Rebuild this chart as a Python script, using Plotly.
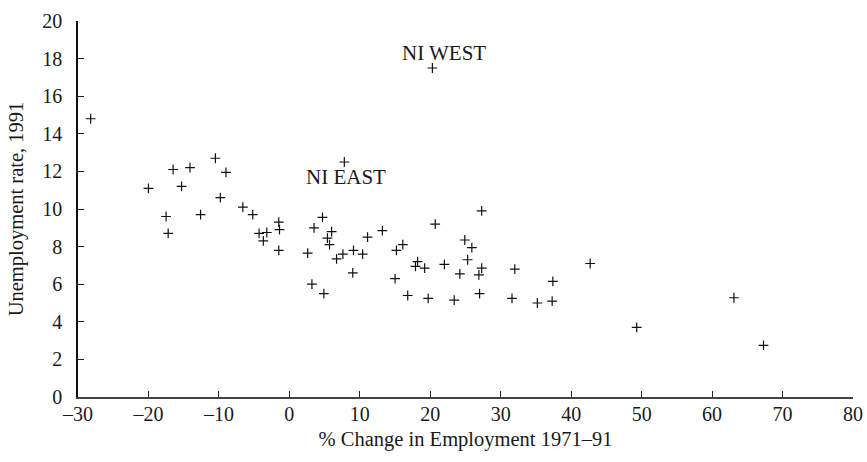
import plotly.graph_objects as go

# % change in employment 1971-91 (x) and unemployment rate 1991 (y)
employment_change = [
    -28.2, -20.0, -16.5, -14.1, -15.3, -10.5, -9.0, -9.8, -17.5, -17.2, -12.6, -6.6, -5.2, -4.3, -3.2, -3.7,
    7.8, -1.5, -1.4, -1.5, 2.6, 3.5, 4.7, 6.0, 5.4, 5.7, 6.7, 7.6, 9.1, 10.4, 11.1, 13.2, 15.2, 16.1, 20.7, 18.2, 17.9, 19.2,
    3.2, 4.9, 9.0, 15.0, 16.8, 19.7,
    27.3, 24.9, 25.9, 25.3, 22.0, 27.3, 32.0, 42.7,
    24.2, 26.9, 37.4, 23.4, 27.0, 31.6, 35.2, 37.3,
    49.3, 67.3, 63.1, 20.3,
]
unemployment_1991 = [
    14.8, 11.1, 12.1, 12.2, 11.2, 12.7, 11.95, 10.6, 9.6, 8.7, 9.7, 10.1, 9.7, 8.7, 8.75, 8.3,
    12.5, 9.3, 8.9, 7.8, 7.65, 9.0, 9.55, 8.8, 8.45, 8.1, 7.35, 7.6, 7.8, 7.6, 8.5, 8.85, 7.8, 8.1, 9.2, 7.2, 6.95, 6.85,
    6.0, 5.5, 6.6, 6.3, 5.4, 5.25,
    9.9, 8.35, 7.95, 7.3, 7.05, 6.85, 6.8, 7.1,
    6.55, 6.5, 6.15, 5.15, 5.5, 5.25, 5.0, 5.1,
    3.7, 2.75, 5.28, 17.5,
]

label_names = ["NI WEST", "NI EAST"]
label_x = [21.9, 8.1]
label_y = [18.3, 11.7]

x_tick_vals = [-30, -20, -10, 0, 10, 20, 30, 40, 50, 60, 70, 80]
x_tick_text = ["–30", "–20", "–10", "0", "10", "20", "30", "40", "50", "60", "70", "80"]
y_tick_vals = [0, 2, 4, 6, 8, 10, 12, 14, 16, 18, 20]

FONT = "Liberation Serif, Times New Roman, serif"
TXT = "#1a1a1a"

fig = go.Figure()
fig.add_trace(go.Scatter(
    x=employment_change, y=unemployment_1991, mode="markers",
    marker=dict(symbol="cross-thin", size=7, line=dict(color="#111111", width=1.2)),
    showlegend=False, hoverinfo="x+y",
))

for name, lx, ly in zip(label_names, label_x, label_y):
    fig.add_annotation(x=lx, y=ly, text=name, showarrow=False,
                       font=dict(family=FONT, size=21, color=TXT))

fig.update_layout(
    width=867, height=462,
    margin=dict(l=78, r=14, t=21, b=65, autoexpand=False),
    paper_bgcolor="white", plot_bgcolor="white",
    font=dict(family=FONT, size=20, color=TXT),
)
fig.update_xaxes(
    range=[-30, 80], tickmode="array", tickvals=x_tick_vals, ticktext=x_tick_text,
    automargin=False, ticklabeloverflow="allow",
    showgrid=False, zeroline=False, showline=True, linecolor="#444444", linewidth=1.5,
    ticks="inside", ticklen=6, tickwidth=1.2, tickcolor="#222222",
    tickfont=dict(family=FONT, size=20, color=TXT), ticklabelstandoff=-2,
    title=dict(text="% Change in Employment 1971–91", font=dict(family=FONT, size=20.5, color=TXT), standoff=8),
)
fig.update_yaxes(
    range=[0, 20], tickmode="array", tickvals=y_tick_vals,
    automargin=False, ticklabeloverflow="allow",
    showgrid=False, zeroline=False, showline=True, linecolor="#111111", linewidth=1.5,
    ticks="inside", ticklen=6, tickwidth=1.2, tickcolor="#222222",
    tickfont=dict(family=FONT, size=20, color=TXT), ticklabelstandoff=10,
    title=dict(text="Unemployment rate, 1991", font=dict(family=FONT, size=20.5, color=TXT), standoff=13),
)

fig.write_html(
    "out.html",
    config={"displayModeBar": False},
    post_script="document.body.style.margin='0';document.body.style.overflow='hidden';",
)
